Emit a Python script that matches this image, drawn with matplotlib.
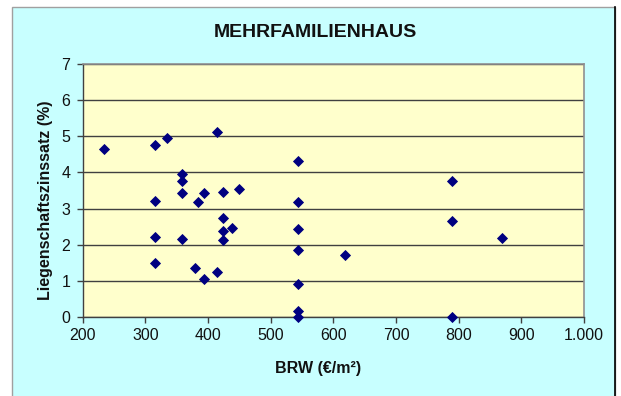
import matplotlib
matplotlib.use('Agg')
import matplotlib.pyplot as plt
from matplotlib.patches import Rectangle
from matplotlib.lines import Line2D

# data
brw = [234, 315, 334, 414, 359, 359, 359, 315, 384, 394, 424, 450,
       424, 424, 439, 424, 315, 359, 315, 379, 394, 414,
       544, 544, 544, 544, 544, 544, 544,
       789, 789, 869, 619, 789]
zins = [4.64, 4.77, 4.96, 5.11, 3.95, 3.75, 3.44, 3.22, 3.18, 3.44, 3.46, 3.53,
        2.75, 2.38, 2.45, 2.13, 2.22, 2.15, 1.48, 1.36, 1.05, 1.24,
        4.32, 3.17, 2.43, 1.85, 0.91, 0.16, 0.0,
        3.77, 2.65, 2.19, 1.71, 0.0]

x_ticks = [200, 300, 400, 500, 600, 700, 800, 900, 1000]
x_tick_labels = ['200', '300', '400', '500', '600', '700', '800', '900', '1.000']
y_ticks = [0, 1, 2, 3, 4, 5, 6, 7]

title = 'MEHRFAMILIENHAUS'
x_label = 'BRW (€/m²)'
y_label = 'Liegenschaftszinssatz (%)'

plt.rcParams['font.family'] = ['Liberation Sans', 'DejaVu Sans']

W, H = 621, 396
fig = plt.figure(figsize=(W / 100, H / 100), dpi=100)
fig.patch.set_facecolor('white')

# cyan chart area like in excel
bg = Rectangle((11.5 / W, -0.05), (615 - 11.5) / W, 1.05 - 6.7 / H,
               transform=fig.transFigure, facecolor='#C8FFFF',
               edgecolor='#A0A0A0', linewidth=1.0, zorder=-10)
fig.patches.append(bg)
fig.lines.append(Line2D([615 / W, 615 / W], [0, 1 - 6.7 / H],
                        transform=fig.transFigure, color='black', linewidth=1.2))

left, right = 82.7 / W, 584 / W
bottom, top = 1 - 316.7 / H, 1 - 64.3 / H
ax = fig.add_axes([left, bottom, right - left, top - bottom])
ax.set_facecolor('#FFFFCC')

ax.plot(brw, zins, linestyle='none', marker='D', markersize=4.8,
        color='#000080', markeredgewidth=0.6, clip_on=False, zorder=5)

ax.set_xlim(200, 1000)
ax.set_ylim(0, 7)
ax.set_xticks(x_ticks)
ax.set_xticklabels(x_tick_labels)
ax.set_yticks(y_ticks)

ax.yaxis.grid(True, color='#404040', linewidth=1.0)
ax.set_axisbelow(True)

for s in ['top', 'right']:
    ax.spines[s].set_color('#909090')
    ax.spines[s].set_linewidth(1.2)
for s in ['left', 'bottom']:
    ax.spines[s].set_color('#404040')
    ax.spines[s].set_linewidth(1.0)

ax.tick_params(axis='both', direction='out', length=4, width=1.0,
               color='#404040', labelsize=11.5, labelcolor='#111111')
ax.tick_params(axis='x', pad=4)
ax.tick_params(axis='y', pad=5)

fig.text(315 / W, 1 - 32.5 / H, title, ha='center', va='center',
         fontsize=14, fontweight='bold', color='#111111')
fig.text(318 / W, 1 - 368 / H, x_label, ha='center', va='center',
         fontsize=11.5, fontweight='bold', color='#111111')
fig.text(46 / W, 1 - 200.5 / H, y_label, ha='center', va='center',
         rotation=90, fontsize=11.5, fontweight='bold', color='#111111')

fig.savefig('out.png', dpi=100)
